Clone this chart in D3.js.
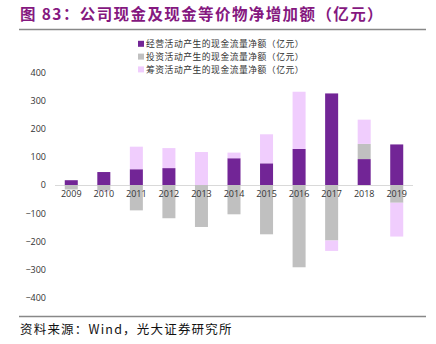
<!DOCTYPE html>
<html>
<head>
<meta charset="utf-8">
<script src="https://cdn.jsdelivr.net/npm/d3@7"></script>
<style>
  body { margin: 0; background: #fff; }
  svg { display: block; font-family: "Noto Sans CJK SC", sans-serif; }
</style>
</head>
<body>
<svg id="chart" width="436" height="344"></svg>
<script>
// data (亿元)
var years = ["2009","2010","2011","2012","2013","2014","2015","2016","2017","2018","2019"];
var operating = [17, 46, 56, 60, 0, 95, 77, 128, 325, 92, 144];
var investing = [-16, -20, -90, -118, -149, -104, -175, -292, -197, 54, -63];
var financing = [0, -3, 80, 71, 117, 20, 103, 203, -37, 86, -120];
var seriesNames = ["经营活动产生的现金流量净额（亿元）", "投资活动产生的现金流量净额（亿元）", "筹资活动产生的现金流量净额（亿元）"];
var colors = ["#722596", "#c0c0c0", "#f0cdfd"];
var yTicks = [-400, -300, -200, -100, 0, 100, 200, 300, 400];

var svg = d3.select("#chart");

// title + rules
svg.append("text")
    .attr("x", 20).attr("y", 20)
    .attr("fill", "#85187f")
    .attr("font-size", 15.5).attr("font-weight", "bold")
    .attr("letter-spacing", 1.4)
    .text("图 83：公司现金及现金等价物净增加额（亿元）");
svg.append("line").attr("x1", 19).attr("x2", 426).attr("y1", 29.5).attr("y2", 29.5)
    .attr("stroke", "#888").attr("stroke-width", 1.5);
svg.append("line").attr("x1", 19).attr("x2", 426).attr("y1", 316.5).attr("y2", 316.5)
    .attr("stroke", "#888").attr("stroke-width", 1.5);
svg.append("text")
    .attr("x", 20).attr("y", 334)
    .attr("fill", "#111").attr("font-size", 12.5)
    .attr("letter-spacing", 1.2)
    .text("资料来源：Wind，光大证券研究所");

var rows = years.map(function(y, i) {
    return {year: y, op: operating[i], inv: investing[i], fin: financing[i]};
});

var x = d3.scaleBand().domain(years).range([55, 413]).paddingInner(0.6).paddingOuter(0.3);
var y = d3.scaleLinear().domain([-400, 400]).range([297.7, 72.3]);

// zero line
svg.append("line")
    .attr("x1", 55).attr("x2", 413)
    .attr("y1", Math.round(y(0)) + 0.5).attr("y2", Math.round(y(0)) + 0.5)
    .attr("stroke", "#d9d9d9");

var stack = d3.stack().keys(["op", "inv", "fin"]).offset(d3.stackOffsetDiverging);
var layers = stack(rows);

svg.append("g").selectAll("g")
    .data(layers)
    .join("g")
    .attr("fill", function(d, i) { return colors[i]; })
    .selectAll("rect")
    .data(function(d) { return d; })
    .join("rect")
    .attr("x", function(d) { return x(d.data.year); })
    .attr("width", x.bandwidth())
    .attr("y", function(d) { return y(Math.max(d[0], d[1])); })
    .attr("height", function(d) { return Math.abs(y(d[0]) - y(d[1])); });

// y axis labels
var yAxis = d3.axisLeft(y).tickValues(yTicks).tickSize(0).tickPadding(0);
var gy = svg.append("g").attr("transform", "translate(46,0)").call(yAxis);
gy.select(".domain").remove();
gy.selectAll("text").attr("font-size", 9).attr("fill", "#333").attr("font-family", "\"Open Sans\", sans-serif");

// x axis labels
var xAxis = d3.axisBottom(x).tickSize(0).tickPadding(0);
var gx = svg.append("g").attr("transform", "translate(0," + (y(0) + 6) + ")").call(xAxis);
gx.select(".domain").remove();
gx.selectAll("text").attr("font-size", 9).attr("fill", "#333").attr("font-family", "\"Open Sans\", sans-serif");

// legend
var legend = svg.append("g").selectAll("g")
    .data(seriesNames)
    .join("g")
    .attr("transform", function(d, i) { return "translate(138," + (43.8 + i * 12.8) + ")"; });
legend.append("rect")
    .attr("x", 0).attr("y", -3).attr("width", 6).attr("height", 6)
    .attr("fill", function(d, i) { return colors[i]; });
legend.append("text")
    .attr("x", 8).attr("y", 3.2)
    .attr("font-size", 8.8).attr("fill", "#333")
    .attr("letter-spacing", 0.5)
    .text(function(d) { return d; });
</script>
</body>
</html>
